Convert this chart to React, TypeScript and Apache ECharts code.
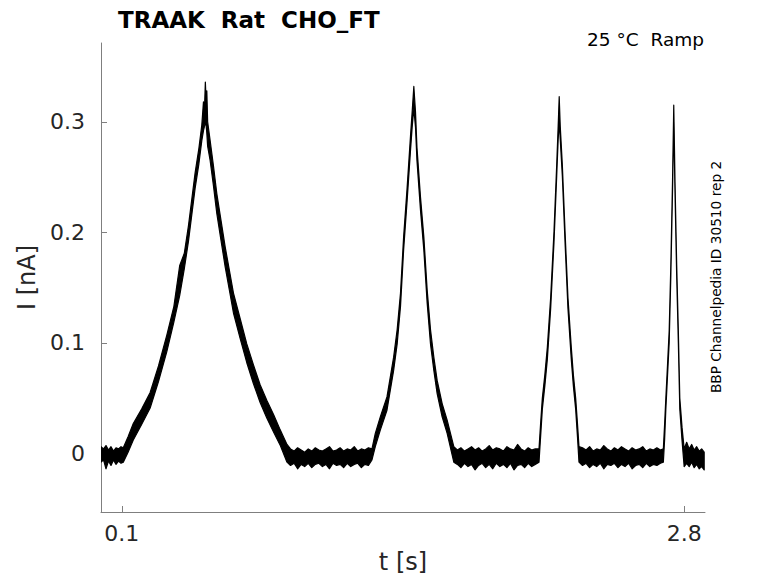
import React, { useEffect, useRef } from "react";
import * as echarts from "echarts";

// ---- data (time in s, current envelope in nA) ----
const TIME_S = [
  // baseline before ramp 1
  0, 0.012, 0.024, 0.036, 0.048, 0.06, 0.072, 0.084, 0.096, 0.107,
  // ramp 1
  0.13, 0.155, 0.195, 0.236, 0.276, 0.316, 0.35, 0.378, 0.4, 0.42, 0.452, 0.47, 0.484, 0.492, 0.497, 0.501, 0.505,
  0.508, 0.512, 0.524, 0.54, 0.556, 0.576, 0.596, 0.616, 0.636, 0.668, 0.7, 0.732, 0.764, 0.796, 0.829, 0.861, 0.893,
  // baseline
  0.91, 0.927, 0.944, 0.961, 0.978, 0.995, 1.012, 1.029, 1.046, 1.063, 1.08, 1.097, 1.114, 1.131, 1.148, 1.165,
  1.182, 1.199, 1.216, 1.233, 1.25, 1.267, 1.284, 1.301,
  // ramp 2
  1.317, 1.341, 1.373, 1.405, 1.422, 1.438, 1.453, 1.47, 1.486, 1.494, 1.502, 1.51, 1.517, 1.534, 1.55, 1.566,
  1.582, 1.598, 1.614, 1.638, 1.662, 1.694,
  // baseline
  1.711, 1.728, 1.745, 1.762, 1.779, 1.796, 1.813, 1.83, 1.847, 1.864, 1.881, 1.898, 1.915, 1.932, 1.949, 1.966,
  1.983, 2.0, 2.017, 2.034, 2.051, 2.068, 2.085, 2.103,
  // ramp 3
  2.11, 2.119, 2.131, 2.143, 2.159, 2.175, 2.188, 2.195, 2.2, 2.205, 2.215, 2.228, 2.242, 2.258, 2.268, 2.279,
  2.288, 2.295,
  // baseline
  2.312, 2.329, 2.346, 2.363, 2.38, 2.397, 2.414, 2.431, 2.448, 2.465, 2.482, 2.499, 2.516, 2.533, 2.55, 2.567,
  2.584, 2.601, 2.618, 2.635, 2.652, 2.669, 2.686, 2.7,
  // ramp 4
  2.706, 2.712, 2.72, 2.728, 2.736, 2.744, 2.75, 2.756, 2.764, 2.772, 2.779, 2.79, 2.8,
  // baseline after
  2.812, 2.824, 2.836, 2.848, 2.86, 2.872, 2.884, 2.896,
];

const UPPER_NA = [
  0.006, 0.004, 0.007, 0.003, 0.006, 0.002, 0.005, 0.004, 0.006, 0.005,
  0.015, 0.027, 0.04, 0.055, 0.079, 0.107, 0.133, 0.17, 0.181, 0.206, 0.254, 0.276, 0.297, 0.318, 0.312, 0.336, 0.318,
  0.328, 0.3, 0.283, 0.26, 0.235, 0.211, 0.187, 0.166, 0.145, 0.122, 0.099, 0.08, 0.062, 0.048, 0.035, 0.021, 0.008,
  0.004, 0.002, 0.005, 0.003, 0.001, 0.004, 0.002, 0.005, 0.003, 0.002, 0.004, 0.006, 0.002, 0.003, 0.005, 0.002,
  0.004, 0.003, 0.006, 0.002, 0.004, 0.003, 0.005, 0.004,
  0.018, 0.033, 0.051, 0.087, 0.112, 0.145, 0.196, 0.241, 0.287, 0.309, 0.332, 0.309, 0.277, 0.232, 0.196, 0.148,
  0.112, 0.087, 0.066, 0.045, 0.03, 0.006,
  0.003, 0.005, 0.002, 0.004, 0.006, 0.003, 0.005, 0.002, 0.004, 0.007, 0.003, 0.005, 0.004, 0.002, 0.006, 0.004,
  0.003, 0.008, 0.004, 0.002, 0.005, 0.003, 0.004, 0.004,
  0.025, 0.05, 0.071, 0.096, 0.141, 0.201, 0.261, 0.296, 0.3227, 0.296, 0.261, 0.201, 0.141, 0.096, 0.071, 0.05,
  0.026, 0.006,
  0.005, 0.003, 0.006, 0.002, 0.004, 0.003, 0.007, 0.004, 0.002, 0.005, 0.003, 0.006, 0.004, 0.002, 0.005, 0.003,
  0.004, 0.006, 0.002, 0.004, 0.003, 0.005, 0.003, 0.004,
  0.026, 0.05, 0.08, 0.111, 0.171, 0.246, 0.315, 0.246, 0.171, 0.111, 0.05, 0.023, 0.004,
  0.01, 0.004, 0.008, 0.003, 0.006, 0.002, 0.004, 0.001,
];

const LOWER_NA = [
  -0.008, -0.006, -0.014, -0.007, -0.011, -0.006, -0.01, -0.007, -0.009, -0.008,
  0.001, 0.012, 0.026, 0.041, 0.065, 0.092, 0.119, 0.143, 0.167, 0.192, 0.24, 0.262, 0.283, 0.292, 0.296, 0.3, 0.296,
  0.29, 0.278, 0.265, 0.242, 0.217, 0.193, 0.169, 0.148, 0.127, 0.104, 0.082, 0.063, 0.046, 0.032, 0.019, 0.007, -0.008,
  -0.011, -0.009, -0.014, -0.01, -0.012, -0.009, -0.013, -0.01, -0.009, -0.012, -0.01, -0.014, -0.009, -0.011, -0.01, -0.013,
  -0.009, -0.012, -0.01, -0.009, -0.013, -0.01, -0.011, -0.006,
  0.006, 0.021, 0.039, 0.075, 0.099, 0.133, 0.184, 0.229, 0.274, 0.295, 0.312, 0.295, 0.265, 0.22, 0.184, 0.136,
  0.099, 0.075, 0.054, 0.033, 0.018, -0.008,
  -0.01, -0.013, -0.009, -0.012, -0.01, -0.015, -0.011, -0.009, -0.013, -0.01, -0.014, -0.009, -0.012, -0.01, -0.013, -0.009,
  -0.015, -0.011, -0.01, -0.013, -0.009, -0.012, -0.01, -0.008,
  0.013, 0.04, 0.061, 0.085, 0.131, 0.191, 0.251, 0.284, 0.3, 0.284, 0.251, 0.191, 0.131, 0.085, 0.061, 0.04,
  0.014, -0.008,
  -0.011, -0.009, -0.013, -0.01, -0.012, -0.009, -0.014, -0.01, -0.011, -0.009, -0.013, -0.01, -0.012, -0.009, -0.014, -0.011,
  -0.01, -0.013, -0.009, -0.012, -0.01, -0.011, -0.009, -0.008,
  0.012, 0.04, 0.07, 0.1, 0.161, 0.236, 0.3, 0.236, 0.161, 0.1, 0.04, 0.011, -0.012,
  -0.009, -0.012, -0.008, -0.013, -0.01, -0.014, -0.012, -0.015,
];

const X_TICKS = [0.1, 2.8];
const Y_TICKS = [0, 0.1, 0.2, 0.3];

const TITLE = "TRAAK  Rat  CHO_FT";
const SUBTITLE = "25 °C  Ramp";
const SIDE_NOTE = "BBP Channelpedia ID 30510 rep 2";
const X_NAME = "t [s]";
const Y_NAME = "I [nA]";

const FONT = "'DejaVu Sans', 'Noto Sans', sans-serif";

export default function App() {
  const ref = useRef<HTMLDivElement>(null);

  useEffect(() => {
    if (!ref.current) return;
    const chart = echarts.init(ref.current, undefined, { renderer: "svg" });
    const n = Math.min(TIME_S.length, UPPER_NA.length, LOWER_NA.length);
    const rows = [] as number[][];
    for (let i = 0; i < n; i++) rows.push([TIME_S[i], UPPER_NA[i], LOWER_NA[i]]);

    const axisGray = "#7f7f7f";
    const labelColor = "#262626";

    chart.setOption({
      animation: false,
      backgroundColor: "#ffffff",
      grid: { left: 101, right: 73, top: 43, bottom: 71, containLabel: false },
      title: {
        text: TITLE,
        left: 113,
        top: 3,
        textStyle: { fontFamily: FONT, fontSize: 23, fontWeight: "bold", color: "#000" },
      },
      xAxis: {
        type: "value",
        min: 0,
        max: 2.9,
        name: X_NAME,
        nameLocation: "middle",
        nameGap: 38,
        nameTextStyle: { fontFamily: FONT, fontSize: 24, color: labelColor },
        axisLine: { show: true, onZero: false, lineStyle: { color: axisGray, width: 1 } },
        axisTick: { show: true, inside: true, length: 6, lineStyle: { color: axisGray }, customValues: X_TICKS },
        axisLabel: {
          show: true,
          margin: 10,
          fontFamily: FONT,
          fontSize: 22,
          color: labelColor,
          customValues: X_TICKS,
          formatter: (v: number) => String(v),
        },
        splitLine: { show: false },
      },
      yAxis: {
        type: "value",
        min: -0.0531,
        max: 0.3713,
        name: Y_NAME,
        nameLocation: "middle",
        nameGap: 58,
        nameTextStyle: { fontFamily: FONT, fontSize: 24, color: labelColor },
        axisLine: { show: true, onZero: false, lineStyle: { color: axisGray, width: 1 } },
        axisTick: { show: true, inside: true, length: 6, lineStyle: { color: axisGray }, customValues: Y_TICKS },
        axisLabel: {
          show: true,
          margin: 16,
          fontFamily: FONT,
          fontSize: 22,
          color: labelColor,
          customValues: Y_TICKS,
          formatter: (v: number) => (Math.abs(v) < 1e-9 ? "0" : String(Math.round(v * 10) / 10)),
        },
        splitLine: { show: false },
      },
      graphic: [
        {
          type: "text",
          right: 74,
          top: 30,
          style: { text: SUBTITLE, fontFamily: FONT, fontSize: 18.5, fill: "#000" },
        },
        {
          type: "text",
          x: 716,
          y: 277,
          rotation: Math.PI / 2,
          style: {
            text: SIDE_NOTE,
            fontFamily: FONT,
            fontSize: 13.7,
            fill: "#000",
            align: "center",
            verticalAlign: "middle",
          },
        },
      ],
      series: [
        {
          type: "custom",
          name: "current",
          data: rows,
          encode: { x: 0, y: [1, 2] },
          clip: true,
          renderItem: (params: any, api: any) => {
            if (params.dataIndex !== 0) return null;
            const pts: number[][] = [];
            for (let i = 0; i < n; i++) pts.push(api.coord([TIME_S[i], UPPER_NA[i]]));
            for (let i = n - 1; i >= 0; i--) pts.push(api.coord([TIME_S[i], LOWER_NA[i]]));
            return {
              type: "polygon",
              shape: { points: pts },
              style: { fill: "#000", stroke: "#000", lineWidth: 1.2, lineJoin: "round" },
            };
          },
        },
      ],
    });
    return () => chart.dispose();
  }, []);

  return (
    <div
      ref={ref}
      style={{ position: "absolute", left: 0, top: 0, width: 778, height: 583, background: "#fff" }}
    />
  );
}
